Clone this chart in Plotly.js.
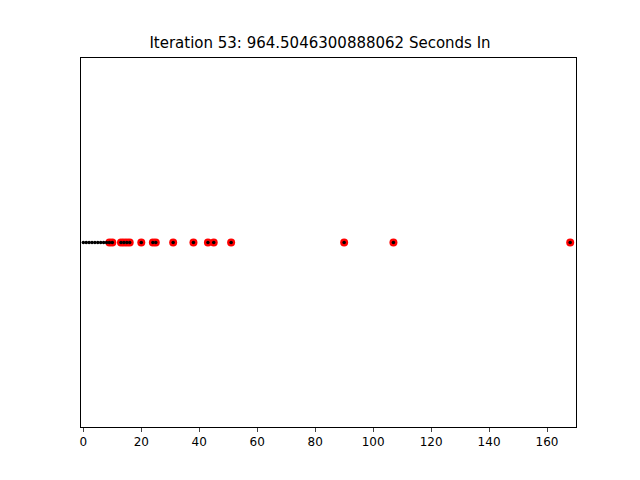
<!DOCTYPE html>
<html>
<head>
<script src="https://cdn.plot.ly/plotly-3.0.1.min.js"></script>
</head>
<body style="margin:0">
<div id="plot" style="width:640px;height:480px"></div>
<script>
var redX = [9, 10, 13, 14, 15, 16, 20, 24, 25, 31, 38, 43, 45, 51, 90, 107, 168];
var blackX = [0, 1, 2, 3, 4, 5, 6, 7, 8, 9, 10, 13, 14, 15, 16, 20, 24, 25, 31, 38, 43, 45, 51, 90, 107, 168];
var titleText = "Iteration 53: 964.5046300888062 Seconds In";

var data = [
  {x: redX, y: redX.map(function () { return 0; }), mode: "markers", type: "scatter",
   marker: {color: "red", size: 8}},
  {x: blackX, y: blackX.map(function () { return 0; }), mode: "markers", type: "scatter",
   marker: {color: "black", size: 3.5}}
];
var layout = {
  width: 640, height: 480, showlegend: false,
  paper_bgcolor: "white", plot_bgcolor: "white",
  margin: {l: 81, r: 64, t: 58, b: 53},
  title: {text: titleText, x: 0.5, y: 0.91, yanchor: "middle",
          font: {family: "DejaVu Sans", size: 15, color: "black"}},
  font: {family: "DejaVu Sans", size: 12, color: "black"},
  xaxis: {range: [-0.8, 170], showgrid: false, zeroline: false, dtick: 20,
          ticks: "outside", ticklen: 4, showline: true, mirror: true, linecolor: "black"},
  yaxis: {range: [-1, 1], showgrid: false, zeroline: false, showticklabels: false,
          showline: true, mirror: true, linecolor: "black"}
};
Plotly.newPlot("plot", data, layout, {staticPlot: true});
</script>
</body>
</html>
